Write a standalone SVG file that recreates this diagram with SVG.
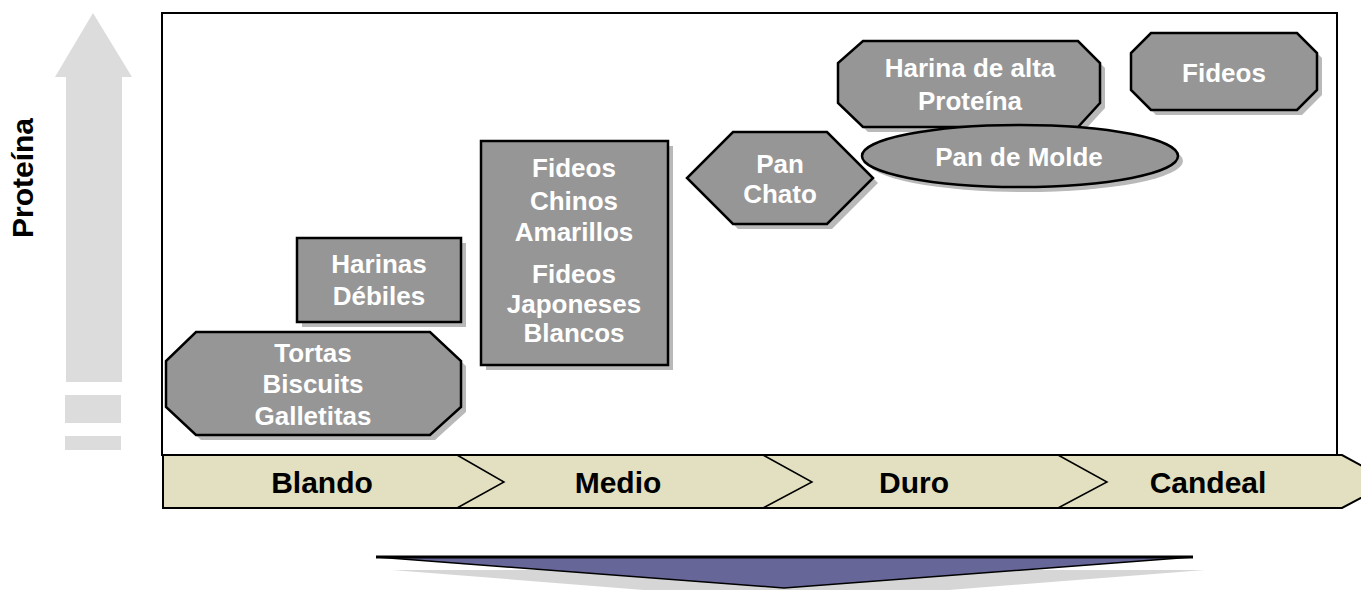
<svg xmlns="http://www.w3.org/2000/svg" width="1361" height="590" viewBox="0 0 1361 590">
<style>
.node{fill:#969696;stroke:#000;stroke-width:2.5;stroke-linejoin:miter}
.shadow{fill:#b9b9b9;stroke:none}
.nt{font-family:"Liberation Sans",Arial,sans-serif;font-weight:bold;font-size:26px;fill:#fff;text-anchor:middle}
.bt{font-family:"Liberation Sans",Arial,sans-serif;font-weight:bold;font-size:30px;fill:#000;text-anchor:middle}
.band{fill:#e2e0c0;stroke:#000;stroke-width:2}
.sep{fill:none;stroke:#000;stroke-width:1.5}
</style>
<rect width="1361" height="590" fill="#fff"/>
<g id="protein-axis">
  <polygon points="93,13 132,77 122,77 122,382 66,382 66,77 55,77" fill="#dcdcdc"/>
  <rect x="65" y="395" width="56" height="28" fill="#dcdcdc"/>
  <rect x="65" y="436" width="56" height="14" fill="#dcdcdc"/>
  <text class="bt" transform="translate(33,178) rotate(-90)">Proteína</text>
</g>
<g id="frame">
  <rect x="162" y="13" width="1175" height="442" fill="#fff" stroke="#000" stroke-width="2"/>
</g>
<g id="node-tortas">
  <polygon class="shadow" transform="translate(5,5)" points="196,332 430,332 461,361 461,407 430,435 196,435 166,407 166,361"/>
  <polygon class="node" points="196,332 430,332 461,361 461,407 430,435 196,435 166,407 166,361"/>
  <text class="nt" x="313" y="362">Tortas</text>
  <text class="nt" x="313" y="393">Biscuits</text>
  <text class="nt" x="313" y="425">Galletitas</text>
</g>
<g id="node-harinas-debiles">
  <rect class="shadow" x="302" y="243" width="164" height="84"/>
  <rect class="node" x="297" y="238" width="164" height="84"/>
  <text class="nt" x="379" y="273">Harinas</text>
  <text class="nt" x="379" y="305">Débiles</text>
</g>
<g id="node-fideos-chinos">
  <rect class="shadow" x="486" y="146" width="187" height="224"/>
  <rect class="node" x="481" y="141" width="187" height="224"/>
  <text class="nt" x="574" y="177">Fideos</text>
  <text class="nt" x="574" y="210">Chinos</text>
  <text class="nt" x="574" y="241">Amarillos</text>
  <text class="nt" x="574" y="283">Fideos</text>
  <text class="nt" x="574" y="313">Japoneses</text>
  <text class="nt" x="574" y="342">Blancos</text>
</g>
<g id="node-pan-chato">
  <polygon class="shadow" transform="translate(5,5)" points="733,132 827,132 873,178 827,224 733,224 687,178"/>
  <polygon class="node" points="733,132 827,132 873,178 827,224 733,224 687,178"/>
  <text class="nt" x="780" y="173">Pan</text>
  <text class="nt" x="780" y="203">Chato</text>
</g>
<g id="node-harina-alta">
  <polygon class="shadow" transform="translate(5,5)" points="863,41 1078,41 1100,63 1100,103 1078,127 863,127 838,103 838,63"/>
  <polygon class="node" points="863,41 1078,41 1100,63 1100,103 1078,127 863,127 838,103 838,63"/>
  <text class="nt" x="970" y="77">Harina de alta</text>
  <text class="nt" x="970" y="110">Proteína</text>
</g>
<g id="node-pan-molde">
  <ellipse class="shadow" cx="1025" cy="161" rx="158" ry="31"/>
  <ellipse class="node" cx="1020" cy="156" rx="158" ry="31"/>
  <text class="nt" x="1019" y="166">Pan de Molde</text>
</g>
<g id="node-fideos">
  <polygon class="shadow" transform="translate(5,5)" points="1151,33 1297,33 1317,53 1317,90 1297,110 1151,110 1131,90 1131,53"/>
  <polygon class="node" points="1151,33 1297,33 1317,53 1317,90 1297,110 1151,110 1131,90 1131,53"/>
  <text class="nt" x="1224" y="82">Fideos</text>
</g>
<g id="band">
  <polygon class="band" points="163,455 1342,455 1391,482 1342,508 163,508"/>
  <polyline class="sep" points="457,455 504,482 457,508"/>
  <polyline class="sep" points="763,455 812,482 763,508"/>
  <polyline class="sep" points="1058,455 1107,482 1058,508"/>
  <text class="bt" x="322" y="493">Blando</text>
  <text class="bt" x="618" y="493">Medio</text>
  <text class="bt" x="914" y="493">Duro</text>
  <text class="bt" x="1208" y="493">Candeal</text>
</g>
<g id="bottom-arrow">
  <polygon points="392,570 1205,570 795,602" fill="#d6d6d6"/>
  <polygon points="376,557 1193,557 784,588" fill="#666699" stroke="#000" stroke-width="1.5" stroke-linejoin="miter"/>
  <line x1="376" y1="557" x2="1193" y2="557" stroke="#000" stroke-width="3"/>
</g>
</svg>
